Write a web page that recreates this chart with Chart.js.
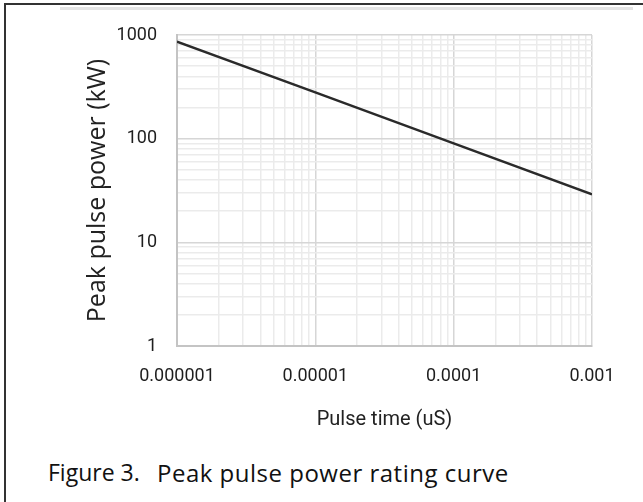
<!DOCTYPE html>
<html>
<head>
<meta charset="utf-8">
<script src="https://cdn.jsdelivr.net/npm/chart.js@4.4.1/dist/chart.umd.min.js"></script>
<style>
body { margin: 0; background: #fff; overflow: hidden; width: 643px; height: 502px; position: relative; }
#frame { position: absolute; left: 4px; top: 3px; width: 700px; height: 600px; border-left: 2px solid #333; border-top: 2px solid #333; }
#topbar { position: absolute; left: 60px; top: 7px; width: 573px; height: 3px; background: #e4e4e4; }
#wrap { position: absolute; left: 0; top: 0; width: 643px; height: 440px; }
.cap { position: absolute; top: 461px; font-family: "Open Sans"; font-size: 24px; line-height: 1; white-space: pre; color: #111; }
</style>
</head>
<body>
<div id="frame"></div>
<div id="topbar"></div>
<div id="wrap"><canvas id="powerChart"></canvas></div>
<div class="cap" style="left:48px; font-size:23px">Figure 3.</div>
<div class="cap" style="left:157px; letter-spacing:0.5px">Peak pulse power rating curve</div>
<script>
// data
var pulseTimes = [0.000001, 0.00001, 0.0001, 0.001];
var peakPower = [860, 280, 90, 29];

// axis ticks
var xDecades = [0.000001, 0.00001, 0.0001, 0.001];
var xTickLabels = ['0.000001', '0.00001', '0.0001', '0.001'];
var yDecades = [1, 10, 100, 1000];
var yTickLabels = ['1', '10', '100', '1000'];
var minorSteps = [1, 2, 3, 4, 5, 6, 7, 8, 9];

// gridline ticks: every step inside each decade, plus the last decade
function buildTicks(decades) {
    var ticks = [];
    for (var i = 0; i < decades.length - 1; i++) {
        minorSteps.forEach(function(s) {
            ticks.push({ value: decades[i] * s });
        });
    }
    ticks.push({ value: decades[decades.length - 1] });
    return ticks;
}

function decadeIndex(v, decades) {
    for (var i = 0; i < decades.length; i++) {
        if (Math.abs(Math.log10(v) - Math.log10(decades[i])) < 1e-6) return i;
    }
    return -1;
}

function gridColor(decades) {
    return function(ctx) {
        if (!ctx.tick) return '#ececec';
        return decadeIndex(ctx.tick.value, decades) >= 0 ? '#d6d6d6' : '#ebebeb';
    };
}

var points = pulseTimes.map(function(t, i) {
    return { x: t, y: peakPower[i] };
});

var ctx = document.getElementById('powerChart').getContext('2d');
var powerChart = new Chart(ctx, {
    type: 'line',
    data: {
        datasets: [{
            data: points,
            borderColor: '#2a2a2a',
            borderWidth: 2.5,
            pointRadius: 0,
            tension: 0,
            fill: false
        }]
    },
    options: {
        responsive: true,
        maintainAspectRatio: false,
        animation: false,
        layout: { padding: { left: 0, top: 35, right: 51, bottom: 0 } },
        plugins: { legend: { display: false }, tooltip: { enabled: false } },
        scales: {
            x: {
                type: 'logarithmic',
                min: xDecades[0],
                max: xDecades[xDecades.length - 1],
                afterBuildTicks: function(scale) { scale.ticks = buildTicks(xDecades); },
                afterFit: function(scale) { scale.height = 94; },
                ticks: {
                    autoSkip: false,
                    maxRotation: 0,
                    padding: 20,
                    color: '#1e1e1e',
                    font: { family: 'Roboto', size: 18 },
                    callback: function(v) {
                        var i = decadeIndex(v, xDecades);
                        return i >= 0 ? xTickLabels[i] : '';
                    }
                },
                grid: { drawTicks: false, color: gridColor(xDecades), lineWidth: 1.5 },
                border: { color: '#c4c4c4', width: 2 },
                title: {
                    display: true,
                    text: 'Pulse time (uS)',
                    color: '#222',
                    font: { family: 'Roboto', size: 20 },
                    padding: { top: 0, bottom: 8 }
                }
            },
            y: {
                type: 'logarithmic',
                min: yDecades[0],
                max: yDecades[yDecades.length - 1],
                afterBuildTicks: function(scale) { scale.ticks = buildTicks(yDecades); },
                afterFit: function(scale) { scale.width = 177; },
                ticks: {
                    autoSkip: false,
                    padding: 20,
                    color: '#1e1e1e',
                    font: { family: 'Roboto', size: 18 },
                    callback: function(v) {
                        var i = decadeIndex(v, yDecades);
                        return i >= 0 ? yTickLabels[i] : '';
                    }
                },
                grid: { drawTicks: false, color: gridColor(yDecades), lineWidth: 1.5 },
                border: { color: '#c4c4c4', width: 2 },
                title: {
                    display: true,
                    text: 'Peak pulse power (kW)',
                    color: '#222',
                    font: { family: 'Open Sans', size: 25 },
                    padding: { top: 83, bottom: 0 }
                }
            }
        }
    }
});
</script>
</body>
</html>
